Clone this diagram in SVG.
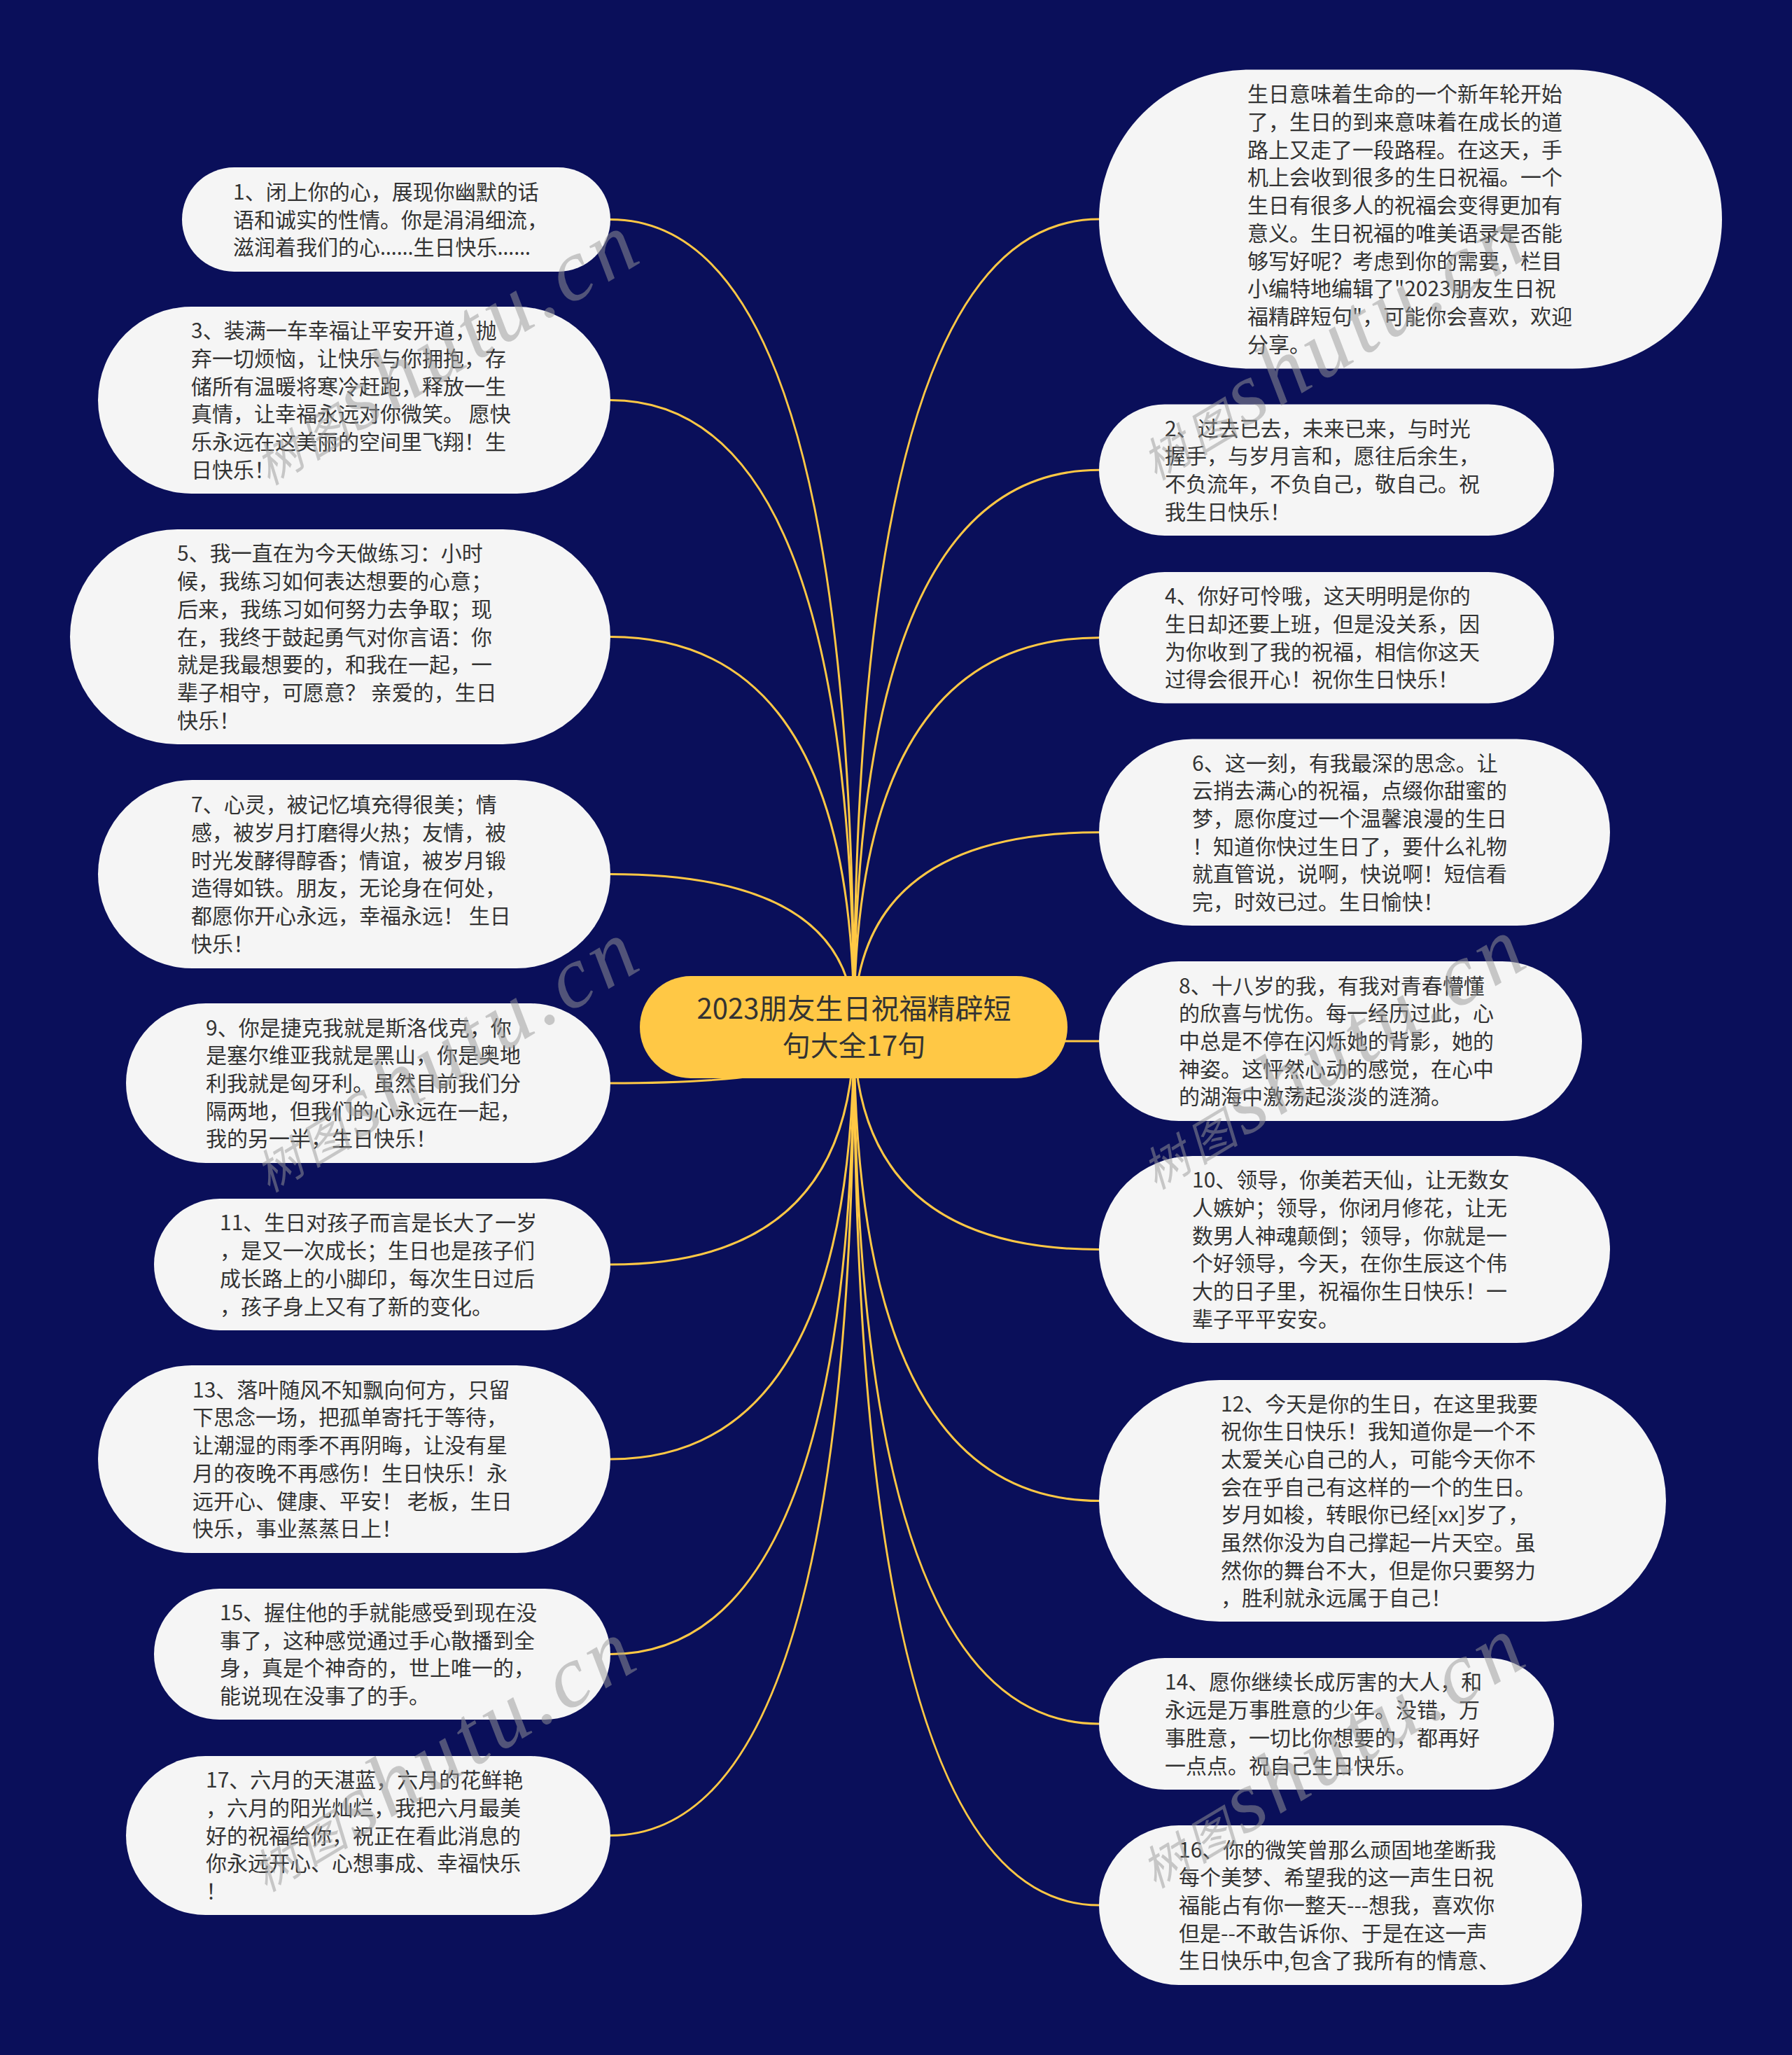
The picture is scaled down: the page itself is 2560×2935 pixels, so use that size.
<svg xmlns="http://www.w3.org/2000/svg" width="2560" height="2935" viewBox="0 0 2560 2935">
<style>
.bg{fill:#0A0F5A}
.node{fill:#F5F5F5}
.root{fill:#FFC845}
.t{font-family:"Noto Sans CJK SC","Noto Sans",sans-serif;font-size:30px;fill:#333333}
.el{font-family:"Noto Sans",sans-serif}
.rt{font-family:"Noto Sans CJK SC","Noto Sans",sans-serif;font-size:40px;fill:#333333;text-anchor:middle}
.link{fill:none;stroke:#FFC845;stroke-width:3}
.wm{font-family:"Liberation Serif","Noto Sans CJK SC",serif;font-style:italic;font-size:125px;letter-spacing:8px;fill:#999999;opacity:0.5}
</style>
<rect class="bg" x="0" y="0" width="2560" height="2935"/>
<g id="connectors">
<path class="link" d="M1220,1467 Q1220,313.5 872,313.5"/>
<path class="link" d="M1220,1467 Q1220,571.5 872,571.5"/>
<path class="link" d="M1220,1467 Q1220,909.5 872,909.5"/>
<path class="link" d="M1220,1467 Q1220,1248.5 872,1248.5"/>
<path class="link" d="M1220,1467 Q1220,1547 872,1547"/>
<path class="link" d="M1220,1467 Q1220,1806 872,1806"/>
<path class="link" d="M1220,1467 Q1220,2084 872,2084"/>
<path class="link" d="M1220,1467 Q1220,2362.5 872,2362.5"/>
<path class="link" d="M1220,1467 Q1220,2621.5 872,2621.5"/>
<path class="link" d="M1220,1467 Q1220,313 1570,313"/>
<path class="link" d="M1220,1467 Q1220,671.25 1570,671.25"/>
<path class="link" d="M1220,1467 Q1220,910.75 1570,910.75"/>
<path class="link" d="M1220,1467 Q1220,1188.75 1570,1188.75"/>
<path class="link" d="M1220,1467 Q1220,1487 1570,1487"/>
<path class="link" d="M1220,1467 Q1220,1784.5 1570,1784.5"/>
<path class="link" d="M1220,1467 Q1220,2143.5 1570,2143.5"/>
<path class="link" d="M1220,1467 Q1220,2462 1570,2462"/>
<path class="link" d="M1220,1467 Q1220,2721 1570,2721"/>
</g>
<g id="root">
<rect class="root" x="914" y="1394" width="611" height="146" rx="73" ry="73"/>
<text class="rt" x="1220" y="1455">2023朋友生日祝福精辟短<tspan x="1220" dy="53">句大全17句</tspan></text>
</g>
<g id="n1">
<rect class="node" x="260" y="239" width="612" height="149" rx="74.5" ry="74.5"/>
<text class="t" x="333" y="284.8">1、闭上你的心，展现你幽默的话<tspan x="333" dy="39.7">语和诚实的性情。你是涓涓细流，</tspan><tspan x="333" dy="39.7">滋润着我们的心<tspan class="el">……</tspan>生日快乐<tspan class="el">……</tspan></tspan></text>
</g>
<g id="n3">
<rect class="node" x="140" y="438" width="732" height="267" rx="133.5" ry="133.5"/>
<text class="t" x="273" y="483.25">3、装满一车幸福让平安开道，抛<tspan x="273" dy="39.7">弃一切烦恼，让快乐与你拥抱，存</tspan><tspan x="273" dy="39.7">储所有温暖将寒冷赶跑，释放一生</tspan><tspan x="273" dy="39.7">真情，让幸福永远对你微笑。 愿快</tspan><tspan x="273" dy="39.7">乐永远在这美丽的空间里飞翔！生</tspan><tspan x="273" dy="39.7">日快乐！</tspan></text>
</g>
<g id="n5">
<rect class="node" x="100" y="756" width="772" height="307" rx="153.5" ry="153.5"/>
<text class="t" x="253" y="801.4">5、我一直在为今天做练习：小时<tspan x="253" dy="39.7">候，我练习如何表达想要的心意；</tspan><tspan x="253" dy="39.7">后来，我练习如何努力去争取；现</tspan><tspan x="253" dy="39.7">在，我终于鼓起勇气对你言语：你</tspan><tspan x="253" dy="39.7">就是我最想要的，和我在一起，一</tspan><tspan x="253" dy="39.7">辈子相守，可愿意？ 亲爱的，生日</tspan><tspan x="253" dy="39.7">快乐！</tspan></text>
</g>
<g id="n7">
<rect class="node" x="140" y="1114" width="732" height="269" rx="134.5" ry="134.5"/>
<text class="t" x="273" y="1160.25">7、心灵，被记忆填充得很美；情<tspan x="273" dy="39.7">感，被岁月打磨得火热；友情，被</tspan><tspan x="273" dy="39.7">时光发酵得醇香；情谊，被岁月锻</tspan><tspan x="273" dy="39.7">造得如铁。朋友，无论身在何处，</tspan><tspan x="273" dy="39.7">都愿你开心永远，幸福永远！ 生日</tspan><tspan x="273" dy="39.7">快乐！</tspan></text>
</g>
<g id="n9">
<rect class="node" x="180" y="1433" width="692" height="228" rx="114" ry="114"/>
<text class="t" x="294" y="1478.6">9、你是捷克我就是斯洛伐克，你<tspan x="294" dy="39.7">是塞尔维亚我就是黑山，你是奥地</tspan><tspan x="294" dy="39.7">利我就是匈牙利。虽然目前我们分</tspan><tspan x="294" dy="39.7">隔两地，但我们的心永远在一起，</tspan><tspan x="294" dy="39.7">我的另一半，生日快乐！</tspan></text>
</g>
<g id="n11">
<rect class="node" x="220" y="1712" width="652" height="188" rx="94" ry="94"/>
<text class="t" x="314" y="1757.45">11、生日对孩子而言是长大了一岁<tspan x="314" dy="39.7">，是又一次成长；生日也是孩子们</tspan><tspan x="314" dy="39.7">成长路上的小脚印，每次生日过后</tspan><tspan x="314" dy="39.7">，孩子身上又有了新的变化。</tspan></text>
</g>
<g id="n13">
<rect class="node" x="140" y="1950" width="732" height="268" rx="134" ry="134"/>
<text class="t" x="275" y="1995.75">13、落叶随风不知飘向何方，只留<tspan x="275" dy="39.7">下思念一场，把孤单寄托于等待，</tspan><tspan x="275" dy="39.7">让潮湿的雨季不再阴晦，让没有星</tspan><tspan x="275" dy="39.7">月的夜晚不再感伤！生日快乐！永</tspan><tspan x="275" dy="39.7">远开心、健康、平安！ 老板，生日</tspan><tspan x="275" dy="39.7">快乐，事业蒸蒸日上！</tspan></text>
</g>
<g id="n15">
<rect class="node" x="220" y="2269" width="652" height="187" rx="93.5" ry="93.5"/>
<text class="t" x="314" y="2313.95">15、握住他的手就能感受到现在没<tspan x="314" dy="39.7">事了，这种感觉通过手心散播到全</tspan><tspan x="314" dy="39.7">身，真是个神奇的，世上唯一的，</tspan><tspan x="314" dy="39.7">能说现在没事了的手。</tspan></text>
</g>
<g id="n17">
<rect class="node" x="180" y="2508" width="692" height="227" rx="113.5" ry="113.5"/>
<text class="t" x="294" y="2553.1">17、六月的天湛蓝，六月的花鲜艳<tspan x="294" dy="39.7">，六月的阳光灿烂，我把六月最美</tspan><tspan x="294" dy="39.7">好的祝福给你，祝正在看此消息的</tspan><tspan x="294" dy="39.7">你永远开心、心想事成、幸福快乐</tspan><tspan x="294" dy="39.7">！</tspan></text>
</g>
<g id="intro">
<rect class="node" x="1570" y="99.5" width="890" height="427" rx="213.5" ry="213.5"/>
<text class="t" x="1782" y="145.35">生日意味着生命的一个新年轮开始<tspan x="1782" dy="39.7">了，生日的到来意味着在成长的道</tspan><tspan x="1782" dy="39.7">路上又走了一段路程。在这天，手</tspan><tspan x="1782" dy="39.7">机上会收到很多的生日祝福。一个</tspan><tspan x="1782" dy="39.7">生日有很多人的祝福会变得更加有</tspan><tspan x="1782" dy="39.7">意义。生日祝福的唯美语录是否能</tspan><tspan x="1782" dy="39.7">够写好呢？考虑到你的需要，栏目</tspan><tspan x="1782" dy="39.7">小编特地编辑了"2023朋友生日祝</tspan><tspan x="1782" dy="39.7">福精辟短句"，可能你会喜欢，欢迎</tspan><tspan x="1782" dy="39.7">分享。</tspan></text>
</g>
<g id="n2">
<rect class="node" x="1570" y="577.5" width="650" height="187.5" rx="93.75" ry="93.75"/>
<text class="t" x="1664" y="622.7">2、过去已去，未来已来，与时光<tspan x="1664" dy="39.7">握手，与岁月言和，愿往后余生，</tspan><tspan x="1664" dy="39.7">不负流年，不负自己，敬自己。祝</tspan><tspan x="1664" dy="39.7">我生日快乐！</tspan></text>
</g>
<g id="n4">
<rect class="node" x="1570" y="817" width="650" height="187.5" rx="93.75" ry="93.75"/>
<text class="t" x="1664" y="862.2">4、你好可怜哦，这天明明是你的<tspan x="1664" dy="39.7">生日却还要上班，但是没关系，因</tspan><tspan x="1664" dy="39.7">为你收到了我的祝福，相信你这天</tspan><tspan x="1664" dy="39.7">过得会很开心！祝你生日快乐！</tspan></text>
</g>
<g id="n6">
<rect class="node" x="1570" y="1055.5" width="730" height="266.5" rx="133.25" ry="133.25"/>
<text class="t" x="1703" y="1100.5">6、这一刻，有我最深的思念。让<tspan x="1703" dy="39.7">云捎去满心的祝福，点缀你甜蜜的</tspan><tspan x="1703" dy="39.7">梦，愿你度过一个温馨浪漫的生日</tspan><tspan x="1703" dy="39.7">！知道你快过生日了，要什么礼物</tspan><tspan x="1703" dy="39.7">就直管说，说啊，快说啊！短信看</tspan><tspan x="1703" dy="39.7">完，时效已过。生日愉快！</tspan></text>
</g>
<g id="n8">
<rect class="node" x="1570" y="1373" width="690" height="228" rx="114" ry="114"/>
<text class="t" x="1684" y="1418.6">8、十八岁的我，有我对青春懵懂<tspan x="1684" dy="39.7">的欣喜与忧伤。每一经历过此，心</tspan><tspan x="1684" dy="39.7">中总是不停在闪烁她的背影，她的</tspan><tspan x="1684" dy="39.7">神姿。这怦然心动的感觉，在心中</tspan><tspan x="1684" dy="39.7">的湖海中激荡起淡淡的涟漪。</tspan></text>
</g>
<g id="n10">
<rect class="node" x="1570" y="1651" width="730" height="267" rx="133.5" ry="133.5"/>
<text class="t" x="1703" y="1696.25">10、领导，你美若天仙，让无数女<tspan x="1703" dy="39.7">人嫉妒；领导，你闭月修花，让无</tspan><tspan x="1703" dy="39.7">数男人神魂颠倒；领导，你就是一</tspan><tspan x="1703" dy="39.7">个好领导，今天，在你生辰这个伟</tspan><tspan x="1703" dy="39.7">大的日子里，祝福你生日快乐！一</tspan><tspan x="1703" dy="39.7">辈子平平安安。</tspan></text>
</g>
<g id="n12">
<rect class="node" x="1570" y="1971" width="810" height="345" rx="172.5" ry="172.5"/>
<text class="t" x="1744" y="2015.55">12、今天是你的生日，在这里我要<tspan x="1744" dy="39.7">祝你生日快乐！我知道你是一个不</tspan><tspan x="1744" dy="39.7">太爱关心自己的人，可能今天你不</tspan><tspan x="1744" dy="39.7">会在乎自己有这样的一个的生日。</tspan><tspan x="1744" dy="39.7">岁月如梭，转眼你已经[xx]岁了，</tspan><tspan x="1744" dy="39.7">虽然你没为自己撑起一片天空。虽</tspan><tspan x="1744" dy="39.7">然你的舞台不大，但是你只要努力</tspan><tspan x="1744" dy="39.7">，胜利就永远属于自己！</tspan></text>
</g>
<g id="n14">
<rect class="node" x="1570" y="2368" width="650" height="188" rx="94" ry="94"/>
<text class="t" x="1664" y="2413.45">14、愿你继续长成厉害的大人，和<tspan x="1664" dy="39.7">永远是万事胜意的少年。没错，万</tspan><tspan x="1664" dy="39.7">事胜意，一切比你想要的，都再好</tspan><tspan x="1664" dy="39.7">一点点。祝自己生日快乐。</tspan></text>
</g>
<g id="n16">
<rect class="node" x="1570" y="2607" width="690" height="228" rx="114" ry="114"/>
<text class="t" x="1684" y="2652.6">16、你的微笑曾那么顽固地垄断我<tspan x="1684" dy="39.7">每个美梦、希望我的这一声生日祝</tspan><tspan x="1684" dy="39.7">福能占有你一整天---想我，喜欢你</tspan><tspan x="1684" dy="39.7">但是--不敢告诉你、于是在这一声</tspan><tspan x="1684" dy="39.7">生日快乐中,包含了我所有的情意、</tspan></text>
</g>
<g id="watermarks">
<text class="wm" transform="translate(384,694) rotate(-31)"><tspan font-size="66">树图</tspan>shutu.cn</text>
<text class="wm" transform="translate(1651,687) rotate(-31)"><tspan font-size="66">树图</tspan>shutu.cn</text>
<text class="wm" transform="translate(384,1704) rotate(-31)"><tspan font-size="66">树图</tspan>shutu.cn</text>
<text class="wm" transform="translate(1651,1700) rotate(-31)"><tspan font-size="66">树图</tspan>shutu.cn</text>
<text class="wm" transform="translate(380,2703) rotate(-31)"><tspan font-size="66">树图</tspan>shutu.cn</text>
<text class="wm" transform="translate(1650,2698) rotate(-31)"><tspan font-size="66">树图</tspan>shutu.cn</text>
</g>
</svg>
